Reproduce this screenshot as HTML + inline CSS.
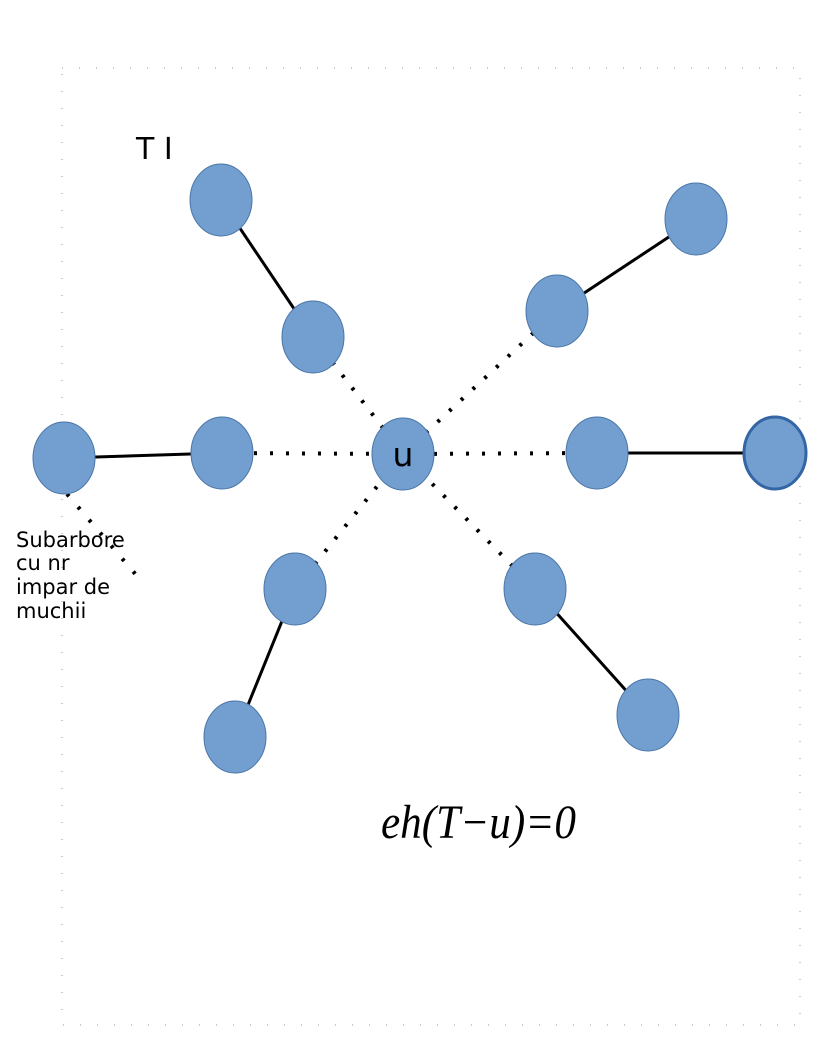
<!DOCTYPE html>
<html><head><meta charset="utf-8"><style>
html,body{margin:0;padding:0;background:#fff;}
svg{display:block;}
</style></head><body>
<svg width="816" height="1056" viewBox="0 0 816 1056" xmlns="http://www.w3.org/2000/svg">
<rect x="62" y="68" width="738" height="957" fill="none" stroke="#999" stroke-width="1" stroke-dasharray="1 16"/>
<g id="edges"></g>
<g id="nodes"></g>
<text x="136" y="159" font-family="DejaVu Sans, Liberation Sans, sans-serif" font-size="30" fill="#000">T I</text>
<text x="403" y="466" text-anchor="middle" font-family="DejaVu Sans, Liberation Sans, sans-serif" font-size="33" fill="#000">u</text>
<g font-family="DejaVu Sans, Liberation Sans, sans-serif" font-size="21" fill="#000">
<text x="16" y="547">Subarbore</text>
<text x="16" y="570">cu nr</text>
<text x="16" y="594">impar de</text>
<text x="16" y="618">muchii</text>
</g>
<text x="381" y="838" font-family="Liberation Serif, DejaVu Serif, serif" font-style="italic" font-size="48" transform="translate(381 0) scale(0.9 1) translate(-381 0)" fill="#000">eh(T−u)=0</text>
</svg>
<script>
const nodeIds=['A','B','U','C','D','E','F','G','H','I','J','K','L'];
const nodeX=[221,313,403,64,222,557,696,597,775,295,235,535,648];
const nodeY=[200,337,454,458,453,311,219,453,453,589,737,589,715];
const solidEdges=[['A','B'],['C','D'],['E','F'],['G','H'],['I','J'],['K','L']];
const dottedEdges=[['B','U'],['D','U'],['E','U'],['G','U'],['I','U'],['K','U']];
const NS='http://www.w3.org/2000/svg';
const eg=document.getElementById('edges'),ng=document.getElementById('nodes');
function pos(id){const i=nodeIds.indexOf(id);return [nodeX[i],nodeY[i]];}
function edge(a,b,dotted){
  const [x1,y1]=pos(a),[x2,y2]=pos(b);
  const l=document.createElementNS(NS,'line');
  l.setAttribute('x1',x1);l.setAttribute('y1',y1);l.setAttribute('x2',x2);l.setAttribute('y2',y2);
  l.setAttribute('stroke','#000');
  l.setAttribute('stroke-width',dotted?4:3);
  if(dotted){l.setAttribute('stroke-dasharray','3 13');}
  
  
  eg.appendChild(l);
}
solidEdges.forEach(e=>edge(e[0],e[1],false));
dottedEdges.forEach(e=>edge(e[0],e[1],true));
const sub=document.createElementNS(NS,'line');
sub.setAttribute('x1',67);sub.setAttribute('y1',494);sub.setAttribute('x2',137);sub.setAttribute('y2',576);
sub.setAttribute('stroke','#000');sub.setAttribute('stroke-width',4);sub.setAttribute('stroke-dasharray','3 14');


eg.appendChild(sub);
nodeIds.forEach((id,i)=>{
  const e=document.createElementNS(NS,'ellipse');
  e.setAttribute('cx',nodeX[i]);e.setAttribute('cy',nodeY[i]);
  e.setAttribute('rx',31);e.setAttribute('ry',36);
  e.setAttribute('fill','#729fcf');
  e.setAttribute('stroke',id==='H'?'#3465a4':'#4a76a8');
  e.setAttribute('stroke-width',id==='H'?3:1);
  
  
  ng.appendChild(e);
});
</script>
</body></html>
